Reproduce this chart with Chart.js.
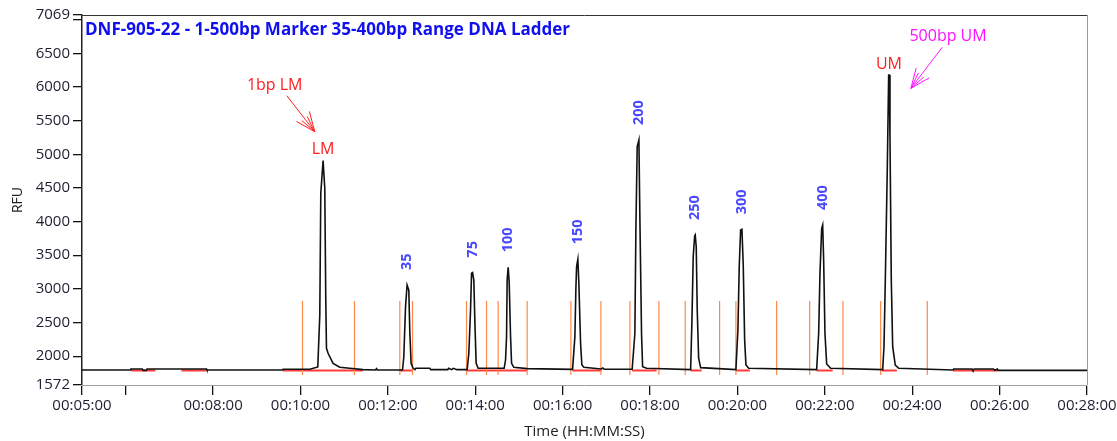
<!DOCTYPE html>
<html><head><meta charset="utf-8">
<script src="https://cdn.jsdelivr.net/npm/chart.js@4/dist/chart.umd.min.js"></script>
<style>html,body{margin:0;padding:0;background:#fff;}#wrap{width:1117px;height:441px;position:relative;}</style>
</head><body><div id="wrap"><canvas id="c" width="1117" height="441"></canvas></div>
<script>
// ---------- data (time in minutes, signal in RFU) ----------
const chartTitle = 'DNF-905-22 - 1-500bp Marker 35-400bp Range DNA Ladder';
const xAxisTitle = 'Time (HH:MM:SS)';
const yAxisTitle = 'RFU';

const traceTime = [
 5.00, 6.11, 6.12, 6.38, 6.40, 6.47, 6.49, 7.85, 7.86, 9.59, 9.60, 10.215,
 10.396, 10.442, 10.465, 10.517, 10.556, 10.579, 10.595, 10.632, 10.746, 10.899, 11.128, 11.43,
 11.72, 11.74, 11.76,
 12.335, 12.365, 12.404, 12.440, 12.479, 12.502, 12.532, 12.578,
 12.62, 12.64, 12.96, 12.98, 13.37, 13.39, 13.46, 13.50, 13.58,
 13.814, 13.853, 13.892, 13.915, 13.938, 13.967, 13.990, 14.020, 14.066,
 14.661, 14.693, 14.716, 14.730, 14.753, 14.776, 14.808, 14.831, 14.883,
 15.19, 16.227, 16.280, 16.303, 16.319, 16.348, 16.371, 16.410, 16.440, 16.486,
 16.88, 16.92, 16.95, 17.591,
 17.653, 17.676, 17.706, 17.745, 17.768, 17.806, 17.830, 17.921,
 18.929, 18.959, 18.988, 19.021, 19.034, 19.057, 19.080, 19.112, 19.158,
 19.965, 20.011, 20.041, 20.073, 20.103, 20.133, 20.165, 20.195, 20.256,
 21.813, 21.859, 21.889, 21.928, 21.951, 21.973, 22.003, 22.042, 22.133,
 23.324, 23.354, 23.383, 23.429, 23.461, 23.475, 23.491, 23.521, 23.553, 23.612, 23.690,
 24.93, 24.95, 25.37, 25.39, 25.42, 25.86, 25.89, 25.95, 25.97, 28.00
];
const traceRFU = [
 1795, 1795, 1810, 1810, 1790, 1790, 1810, 1810, 1795, 1795, 1805, 1805,
 1840, 2612, 4420, 4905, 4494, 2835, 2117, 2043, 1894, 1835, 1820, 1800,
 1795, 1815, 1795,
 1795, 1992, 2735, 3058, 2983, 2364, 1894, 1820,
 1800, 1820, 1820, 1800, 1800, 1820, 1800, 1820, 1800,
 1800, 2043, 2686, 3232, 3241, 3132, 2538, 1894, 1820,
 1820, 1943, 2290, 3132, 3321, 3107, 2290, 1894, 1835,
 1815, 1805, 2290, 3009, 3330, 3440, 3083, 2191, 1869, 1835,
 1810, 1825, 1805, 1805,
 2340, 3875, 5113, 5212, 4023, 2315, 1844, 1820,
 1800, 2538, 3478, 3786, 3801, 3627, 2686, 1969, 1830,
 1800, 2389, 3330, 3875, 3885, 3355, 2241, 1869, 1820,
 1800, 2340, 3232, 3900, 3949, 3429, 2340, 1884, 1820,
 1800, 2141, 3083, 4766, 6178, 6178, 5261, 3132, 2141, 1869, 1820,
 1795, 1810, 1810, 1790, 1810, 1810, 1790, 1810, 1790, 1790
];

const peakNames = ['35', '75', '100', '150', '200', '250', '300', '400'];
const peakTime  = [12.440, 13.938, 14.753, 16.348, 17.745, 19.034, 20.103, 21.951];
const peakRFU   = [3058, 3241, 3321, 3440, 5212, 3801, 3885, 3949];

const markerNames = ['LM', 'UM'];
const markerTime  = [10.517, 23.468];
const markerRFU   = [4905, 6178];

const boundaryTime = [10.046, 11.236, 12.273, 12.564, 13.800, 14.258, 14.524, 15.188,
  16.188, 16.875, 17.539, 18.203, 18.805, 19.592, 19.965, 20.897, 21.653, 22.415, 23.278, 24.345];
const boundaryLow = 1721, boundaryHigh = 2820;

const baselineStart = [6.131, 7.276, 9.595, 12.273, 13.814, 16.227, 17.591, 18.929, 19.965, 21.813, 23.305, 24.933];
const baselineEnd   = [6.680, 7.848, 11.426, 12.571, 15.188, 16.891, 18.150, 19.180, 20.286, 22.180, 23.648, 25.963];
const baselineRFU = 1786;

const calloutText  = ['1bp LM', '500bp UM'];
const calloutTextAt = [[9.41, 6029], [24.82, 6757]];
const calloutFrom  = [[9.687, 5870], [24.688, 6589]];
const calloutTo    = [[10.327, 5335], [23.97, 5980]];

const xTicks = [5, 6, 8, 10, 12, 14, 16, 18, 20, 22, 24, 26, 28];
const xHiddenLabels = [6];
const yTicks = [1572, 2000, 2500, 3000, 3500, 4000, 4500, 5000, 5500, 6000, 6500, 7000, 7069];
const yHiddenLabels = [7000];
const xMin = 5, xMax = 28, yMin = 1572, yMax = 7069;

// ---------- build datasets ----------
const tracePts = traceTime.map((t, i) => ({x: t, y: traceRFU[i]}));
const boundaryPts = [];
boundaryTime.forEach(t => { boundaryPts.push({x: t, y: boundaryLow}, {x: t, y: boundaryHigh}, {x: t, y: null}); });
const basePts = [];
baselineStart.forEach((s, i) => { basePts.push({x: s, y: baselineRFU}, {x: baselineEnd[i], y: baselineRFU}, {x: baselineEnd[i], y: null}); });

const fmtTime = m => { const mm = Math.floor(m), ss = Math.round((m - mm) * 60);
  return '00:' + String(mm).padStart(2, '0') + ':' + String(ss).padStart(2, '0'); };

const tickColor = '#1e1e30';
const FONT = '"Open Sans", "DejaVu Sans", sans-serif';

const overlay = {
  id: 'overlay',
  afterDraw(chart) {
    const {ctx, chartArea: a, scales: {x, y}} = chart;
    ctx.save();
    ctx.lineWidth = 1;
    ctx.strokeStyle = '#333';
    ctx.beginPath(); ctx.moveTo(a.left - 1, a.top + 0.5); ctx.lineTo(a.right + 1, a.top + 0.5); ctx.stroke();
    ctx.strokeStyle = '#9c9c9c';
    ctx.beginPath(); ctx.moveTo(a.right + 0.5, a.top); ctx.lineTo(a.right + 0.5, a.bottom); ctx.stroke();

    ctx.fillStyle = '#1010ee';
    ctx.font = 'bold 17px ' + FONT;
    ctx.textAlign = 'left'; ctx.textBaseline = 'middle';
    ctx.fillText(chartTitle, a.left + 3, a.top + 15);

    // fragment size labels (rotated)
    ctx.fillStyle = '#4848ff';
    ctx.font = 'bold 14.5px ' + FONT;
    peakNames.forEach((n, i) => {
      ctx.save();
      ctx.translate(x.getPixelForValue(peakTime[i]), y.getPixelForValue(peakRFU[i]) - 15);
      ctx.rotate(-Math.PI / 2);
      ctx.textAlign = 'left'; ctx.textBaseline = 'middle';
      ctx.fillText(n, 0, 0);
      ctx.restore();
    });

    // LM / UM
    ctx.fillStyle = '#ff1e1e';
    ctx.font = '16px ' + FONT;
    ctx.textAlign = 'center'; ctx.textBaseline = 'middle';
    markerNames.forEach((n, i) => {
      ctx.fillText(n, x.getPixelForValue(markerTime[i]), y.getPixelForValue(markerRFU[i]) - 11);
    });

    // callouts
    const colors = ['#ff1e1e', '#ff10ff'];
    calloutText.forEach((txt, i) => {
      ctx.fillStyle = colors[i]; ctx.strokeStyle = colors[i];
      ctx.fillText(txt, x.getPixelForValue(calloutTextAt[i][0]), y.getPixelForValue(calloutTextAt[i][1]));
      const x0 = x.getPixelForValue(calloutFrom[i][0]), y0 = y.getPixelForValue(calloutFrom[i][1]);
      const x1 = x.getPixelForValue(calloutTo[i][0]), y1 = y.getPixelForValue(calloutTo[i][1]);
      ctx.lineWidth = 1;
      ctx.beginPath(); ctx.moveTo(x0, y0); ctx.lineTo(x1, y1);
      const back = Math.atan2(y0 - y1, x0 - x1);
      [-0.4, -0.2, 0.2, 0.4].forEach(d => {
        const len = Math.abs(d) > 0.3 ? 21 : 17;
        ctx.moveTo(x1, y1); ctx.lineTo(x1 + len * Math.cos(back + d), y1 + len * Math.sin(back + d));
      });
      ctx.stroke();
    });
    ctx.restore();
  }
};

new Chart(document.getElementById('c'), {
  type: 'scatter',
  data: { datasets: [
    { data: tracePts, showLine: true, borderColor: '#101010', borderWidth: 1.6, pointRadius: 0, tension: 0 },
    { data: boundaryPts, showLine: true, spanGaps: false, borderColor: '#ff8a4c', borderWidth: 1.2, pointRadius: 0 },
    { data: basePts, showLine: true, spanGaps: false, borderColor: '#ff3a3a', borderWidth: 2, pointRadius: 0 }
  ]},
  options: {
    responsive: false, animation: false,
    layout: { padding: { top: 15, right: 30, left: 0, bottom: 0 } },
    plugins: { legend: { display: false }, tooltip: { enabled: false }, title: { display: false } },
    scales: {
      x: {
        type: 'linear', min: xMin, max: xMax,
        afterBuildTicks: s => { s.ticks = xTicks.map(v => ({value: v})); },
        afterFit: s => { s.height = 56; s.paddingLeft = 0; s.paddingRight = 0; },
        grid: { drawOnChartArea: false, drawTicks: true, tickLength: 10, color: '#111', lineWidth: 1.3 },
        border: { display: true, color: '#a0a0a0', width: 1 },
        ticks: { autoSkip: false, maxRotation: 0, padding: 2, color: tickColor,
          font: { family: FONT, size: 15 },
          callback: v => xHiddenLabels.includes(v) ? '' : fmtTime(v) },
        title: { display: true, text: xAxisTitle, color: '#222', font: { family: FONT, size: 15 }, padding: { top: 0, bottom: 0 } }
      },
      y: {
        type: 'linear', min: yMin, max: yMax,
        afterBuildTicks: s => { s.ticks = yTicks.map(v => ({value: v})); },
        afterFit: s => { s.width = 82; s.paddingTop = 0; s.paddingBottom = 0; },
        grid: { drawOnChartArea: false, drawTicks: true, tickLength: 9, color: '#111', lineWidth: 1.3 },
        border: { display: true, color: '#222', width: 1.5 },
        ticks: { autoSkip: false, padding: 3, color: tickColor,
          font: { family: FONT, size: 15 },
          callback: v => yHiddenLabels.includes(v) ? '' : String(v) },
        title: { display: true, text: yAxisTitle, color: '#222', font: { family: FONT, size: 14 }, padding: { top: 10, bottom: 0 } }
      }
    }
  },
  plugins: [overlay]
});
</script></body></html>
